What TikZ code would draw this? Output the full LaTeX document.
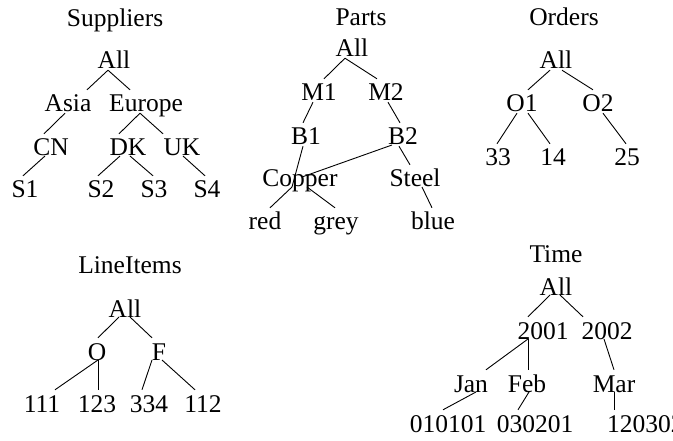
\documentclass[tikz,border=0pt]{standalone}
\usepackage{fontspec}
\setmainfont{Liberation Serif}
\usepackage{tikz}
\usetikzlibrary{positioning}

\begin{document}
\begin{tikzpicture}[x=1pt, y=-1pt,
  font=\fontsize{25.5}{30}\selectfont,
  lbl/.style={anchor=base, inner sep=0pt, text height=22pt, text depth=1pt},
  link/.style={line width=0.9pt}]
\useasboundingbox (0,0) rectangle (673,441);
% Suppliers
\node[lbl] (sTitle) at (115,27) {Suppliers};
\node[lbl] (sAll) at (114,69) {All};
\node[lbl] (sAsia) at (68,112) {Asia};
\node[lbl] (sEurope) at (146,112) {Europe};
\node[lbl] (sCN) at (51,156) {CN};
\node[lbl] (sDK) at (128,156) {DK};
\node[lbl] (sUK) at (182,156) {UK};
\node[lbl] (sS1) at (25,198) {S1};
\node[lbl] (sS2) at (101,198) {S2};
\node[lbl] (sS3) at (154,198) {S3};
\node[lbl] (sS4) at (207,198) {S4};
\draw[link] ([xshift=-6]sAll.south) -- ([xshift=19]sAsia.north);
\draw[link] ([xshift=-6]sAll.south) -- ([xshift=-16]sEurope.north);
\draw[link] ([xshift=-3]sAsia.south) -- ([xshift=-7]sCN.north);
\draw[link] ([xshift=-6]sEurope.south) -- ([xshift=-9]sDK.north);
\draw[link] ([xshift=-6]sEurope.south) -- ([xshift=-19]sUK.north);
\draw[link] ([xshift=-6]sCN.base) -- ([xshift=-2]sS1.north);
\draw[link] ([xshift=-8]sDK.base) -- ([xshift=-3]sS2.north);
\draw[link] ([xshift=2]sDK.base) -- ([xshift=-1]sS3.north);
\draw[link] ([xshift=1]sUK.base) -- ([xshift=-2]sS4.north);
% Parts
\node[lbl] (pTitle) at (361,26) {Parts};
\node[lbl] (pAll) at (352,57) {All};
\node[lbl] (pM1) at (319,101) {M1};
\node[lbl] (pM2) at (386,101) {M2};
\node[lbl] (pB1) at (306,145) {B1};
\node[lbl] (pB2) at (403,145) {B2};
\node[lbl] (pCopper) at (300,187) {Copper};
\node[lbl] (pSteel) at (415,187) {Steel};
\node[lbl] (pRed) at (265,230) {red};
\node[lbl] (pGrey) at (336,230) {grey};
\node[lbl] (pBlue) at (433,230) {blue};
\draw[link] ([xshift=-7]pAll.south) -- ([xshift=5]pM1.north);
\draw[link] ([xshift=-7]pAll.south) -- ([xshift=-9]pM2.north);
\draw[link] ([xshift=-6]pM1.south) -- ([xshift=-3]pB1.north);
\draw[link] ([xshift=2]pM2.south) -- ([xshift=-3]pB2.north);
\draw[link] ([xshift=-3]pB1.south) -- ([xshift=-8]pCopper.base);
\draw[link] ([xshift=-11]pB2.base) -- ([xshift=2,yshift=10]pCopper.base);
\draw[link] ([xshift=-4]pB2.south) -- ([xshift=-5]pSteel.north);
\draw[link] ([xshift=-8]pCopper.base) -- ([xshift=5]pRed.north);
\draw[link] ([xshift=7]pCopper.base) -- ([xshift=-1]pGrey.north);
\draw[link] ([xshift=7]pSteel.base) -- ([xshift=-1]pBlue.north);
% Orders
\node[lbl] (oTitle) at (564,26) {Orders};
\node[lbl] (oAll) at (556,69) {All};
\node[lbl] (oO1) at (522,112) {O1};
\node[lbl] (oO2) at (598,112) {O2};
\node[lbl] (o33) at (498,166) {33};
\node[lbl] (o14) at (553,166) {14};
\node[lbl] (o25) at (627,166) {25};
\draw[link] ([xshift=-6]oAll.south) -- ([xshift=6]oO1.north);
\draw[link] ([xshift=6]oAll.south) -- ([xshift=-5]oO2.north);
\draw[link] ([xshift=-5]oO1.south) -- ([xshift=-1]o33.north);
\draw[link] ([xshift=6]oO1.south) -- ([xshift=-3]o14.north);
\draw[link] ([xshift=5]oO2.south) -- ([xshift=-1]o25.north);
% LineItems
\node[lbl] (lTitle) at (130,274) {LineItems};
\node[lbl] (lAll) at (125,317) {All};
\node[lbl] (lO) at (97,360) {O};
\node[lbl] (lF) at (159,360) {F};
\node[lbl] (l111) at (42,412) {111};
\node[lbl] (l123) at (97,412) {123};
\node[lbl] (l334) at (149,412) {334};
\node[lbl] (l112) at (203,412) {112};
\draw[link] ([xshift=-6]lAll.base) -- ([xshift=1]lO.north);
\draw[link] ([xshift=5]lAll.base) -- ([xshift=-7]lF.north);
\draw[link] ([xshift=1]lO.base) -- ([xshift=13]l111.north);
\draw[link] ([xshift=1]lO.base) -- ([xshift=1]l123.north);
\draw[link] ([xshift=-7]lF.base) -- ([xshift=-7]l334.north);
\draw[link] ([xshift=3]lF.base) -- ([xshift=-8]l112.north);
% Time
\node[lbl] (tTitle) at (556,263) {Time};
\node[lbl] (tAll) at (556,295) {All};
\node[lbl] (t2001) at (543,339) {2001};
\node[lbl] (t2002) at (607,339) {2002};
\node[lbl] (tJan) at (471,392) {Jan};
\node[lbl] (tFeb) at (527,392) {Feb};
\node[lbl] (tMar) at (614,392) {Mar};
\node[lbl] (t010101) at (448,432) {010101};
\node[lbl] (t030201) at (535,432) {030201};
\node[lbl, anchor=base west] (t120302) at (607,432) {120302};
\draw[link] ([xshift=-6]tAll.base) -- ([xshift=-15]t2001.north);
\draw[link] ([xshift=4]tAll.base) -- ([xshift=-24]t2002.north);
\draw[link] ([xshift=-15]t2001.base) -- ([xshift=15]tJan.north);
\draw[link] ([xshift=-15]t2001.base) -- ([xshift=1]tFeb.north);
\draw[link] ([xshift=-3]t2002.base) -- ([xshift=0]tMar.north);
\draw[link] ([xshift=5]tJan.base) -- ([xshift=-5]t010101.north);
\draw[link] ([xshift=2]tFeb.base) -- ([xshift=-17]t030201.north);
\draw[link] ([xshift=0]tMar.base) -- ([xshift=7]t120302.north west);
\end{tikzpicture}
\end{document}
